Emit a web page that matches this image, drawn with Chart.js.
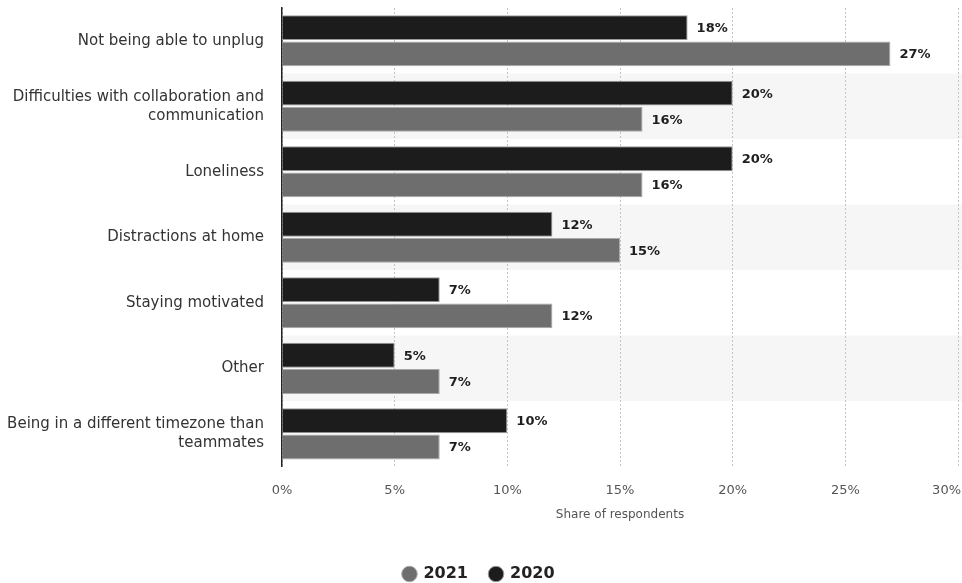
<!DOCTYPE html>
<html>
<head>
<meta charset="utf-8">
<script src="https://cdn.jsdelivr.net/npm/chart.js@4.4.0/dist/chart.umd.min.js"></script>
<style>
  html, body { margin: 0; padding: 0; background: #fff; }
  #wrap { width: 962px; height: 583px; }
</style>
</head>
<body>
<div id="wrap"><canvas id="chart"></canvas></div>
<script>
const categories = [
  "Not being able to unplug",
  ["Difficulties with collaboration and", "communication"],
  "Loneliness",
  "Distractions at home",
  "Staying motivated",
  "Other",
  ["Being in a different timezone than", "teammates"]
];
const values2020 = [18, 20, 20, 12, 7, 5, 10];
const values2021 = [27, 16, 16, 15, 12, 7, 7];
const xTicks = [0, 5, 10, 15, 20, 25, 30];

const FONT = "'DejaVu Sans', sans-serif";

// light bands behind every other category row
const bandPlugin = {
  id: "bands",
  beforeDraw(chart) {
    const { ctx, chartArea, scales: { y } } = chart;
    const step = Math.abs(y.getPixelForValue(1) - y.getPixelForValue(0));
    ctx.save();
    ctx.fillStyle = "#f6f6f6";
    categories.forEach((c, i) => {
      if (i % 2 === 1) {
        const cy = y.getPixelForValue(i);
        ctx.fillRect(chartArea.left, cy - step / 2, chart.width - chartArea.left, step);
      }
    });
    ctx.restore();
  }
};

// value labels at the end of each bar + x tick labels (last one kept inside the canvas)
const labelPlugin = {
  id: "valueLabels",
  afterDatasetsDraw(chart) {
    const { ctx, chartArea, scales: { x } } = chart;
    ctx.save();
    ctx.font = "bold 13px " + FONT;
    ctx.fillStyle = "#1e1e1e";
    ctx.textBaseline = "middle";
    ctx.textAlign = "left";
    chart.data.datasets.forEach((ds, di) => {
      chart.getDatasetMeta(di).data.forEach((bar, i) => {
        ctx.fillText(ds.data[i] + "%", bar.x + 9, bar.y + 1);
      });
    });
    ctx.font = "13px " + FONT;
    ctx.fillStyle = "#555";
    xTicks.forEach((v, i) => {
      const last = i === xTicks.length - 1;
      ctx.textAlign = last ? "right" : "center";
      ctx.fillText(v + "%", x.getPixelForValue(v) + (last ? 3 : 0), chartArea.bottom + 24);
    });
    ctx.restore();
  }
};

new Chart(document.getElementById("chart"), {
  type: "bar",
  data: {
    labels: categories,
    datasets: [
      { label: "2020", data: values2020, backgroundColor: "#1c1c1c", borderColor: "#9a9a9a", borderWidth: 1, borderSkipped: "left" },
      { label: "2021", data: values2021, backgroundColor: "#6e6e6e", borderColor: "#a8a8a8", borderWidth: 1, borderSkipped: "left" }
    ]
  },
  options: {
    indexAxis: "y",
    responsive: true,
    maintainAspectRatio: false,
    animation: false,
    categoryPercentage: 0.8,
    barPercentage: 0.95,
    layout: { padding: { top: 8, right: 4, left: 0, bottom: -9 } },
    plugins: {
      legend: {
        position: "bottom",
        reverse: true,
        labels: {
          usePointStyle: true,
          pointStyle: "circle",
          boxWidth: 12,
          boxHeight: 11,
          padding: 22,
          color: "#222",
          font: { family: FONT, size: 16, weight: "bold" }
        }
      },
      tooltip: { enabled: false }
    },
    scales: {
      x: {
        min: 0,
        max: 30,
        afterBuildTicks(scale) { scale.ticks = xTicks.map(v => ({ value: v })); },
        afterFit(scale) { scale.paddingLeft = 0; scale.paddingRight = 0; },
        ticks: { display: false },
        grid: { color: "#c4c4c4", drawTicks: false },
        border: { display: false, dash: [2, 2] },
        title: {
          display: true,
          text: "Share of respondents",
          color: "#555",
          padding: { top: 41, bottom: 22 },
          font: { family: FONT, size: 12 }
        }
      },
      y: {
        afterFit(scale) {
          scale.width = 282;
          scale.paddingTop = 0;
          scale.paddingBottom = 0;
        },
        ticks: {
          color: "#333",
          padding: 18,
          font: { family: FONT, size: 15, lineHeight: 1.27 }
        },
        grid: { display: false, drawTicks: false },
        border: { display: true, color: "#222", width: 1.5 }
      }
    }
  },
  plugins: [bandPlugin, labelPlugin]
});
</script>
</body>
</html>
